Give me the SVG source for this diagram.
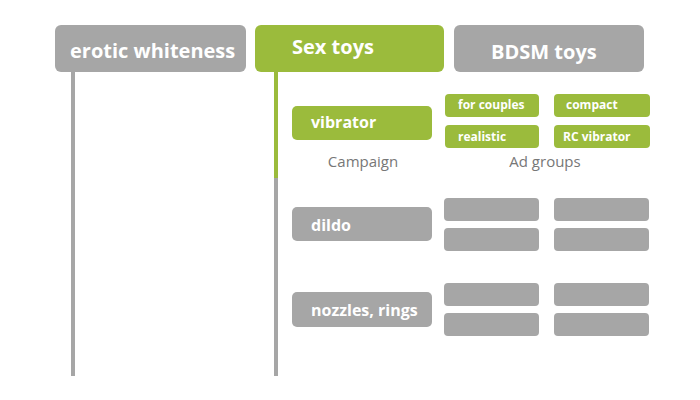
<svg xmlns="http://www.w3.org/2000/svg" width="700" height="400" viewBox="0 0 700 400">
<style>
text{font-family:"Open Sans","Liberation Sans",sans-serif}
.g{fill:#a6a6a6}.v{fill:#9bbb3c}
.h{font-size:20px;font-weight:bold;fill:#fff}
.c{font-size:16px;font-weight:bold;fill:#fff}
.s{font-size:12px;font-weight:bold;fill:#fff}
.l{font-size:15px;fill:#777;text-anchor:middle}
</style>
<rect width="700" height="400" fill="#fff"/>
<g id="connectors">
<line x1="73" y1="70" x2="73" y2="376" stroke="#a6a6a6" stroke-width="4"/>
<line x1="276" y1="176" x2="276" y2="376" stroke="#a6a6a6" stroke-width="4"/>
<line x1="276" y1="70" x2="276" y2="178" stroke="#9bbb3c" stroke-width="4"/>
</g>
<g id="erotic"><rect class="g" x="55" y="25" width="191" height="47" rx="6"/><text class="h" x="70" y="58">erotic whiteness</text></g>
<g id="sextoys"><rect class="v" x="255" y="25" width="189" height="47" rx="6"/><text class="h" x="292" y="54">Sex toys</text></g>
<g id="bdsm"><rect class="g" x="454" y="25" width="190" height="47" rx="6"/><text class="h" x="491" y="59">BDSM toys</text></g>
<g id="vibrator"><rect class="v" x="292" y="106" width="140" height="34" rx="5"/><text class="c" x="311" y="128">vibrator</text></g>
<g id="forcouples"><rect class="v" x="445" y="94" width="94" height="23" rx="4"/><text class="s" x="458" y="109">for couples</text></g>
<g id="compact"><rect class="v" x="554" y="94" width="96" height="23" rx="4"/><text class="s" x="566" y="109">compact</text></g>
<g id="realistic"><rect class="v" x="445" y="125" width="94" height="23" rx="4"/><text class="s" x="458" y="141">realistic</text></g>
<g id="rcvibrator"><rect class="v" x="554" y="125" width="96" height="23" rx="4"/><text class="s" x="563" y="141">RC vibrator</text></g>
<text class="l" x="363" y="167">Campaign</text>
<text class="l" x="545" y="167">Ad groups</text>
<g id="dildo"><rect class="g" x="292" y="207" width="140" height="34" rx="5"/><text class="c" x="311" y="231">dildo</text>
<rect class="g" x="444" y="198" width="95" height="23" rx="4"/><rect class="g" x="554" y="198" width="95" height="23" rx="4"/>
<rect class="g" x="444" y="228" width="95" height="23" rx="4"/><rect class="g" x="554" y="228" width="95" height="23" rx="4"/></g>
<g id="nozzles"><rect class="g" x="292" y="292" width="140" height="35" rx="5"/><text class="c" x="311" y="316">nozzles, rings</text>
<rect class="g" x="444" y="283" width="95" height="23" rx="4"/><rect class="g" x="554" y="283" width="95" height="23" rx="4"/>
<rect class="g" x="444" y="313" width="95" height="23" rx="4"/><rect class="g" x="554" y="313" width="95" height="23" rx="4"/></g>
</svg>
